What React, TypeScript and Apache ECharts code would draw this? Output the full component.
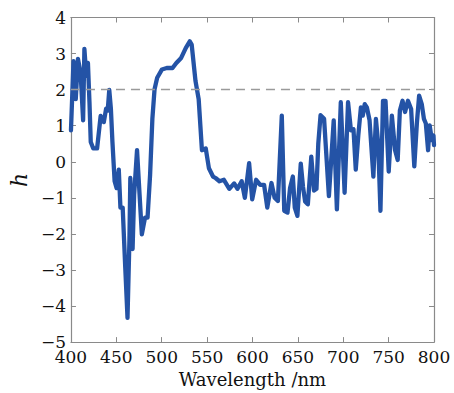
import React, { useEffect, useRef } from "react";
import * as echarts from "echarts";

const wavelength = [
  400, 402.8, 405.3, 407.7, 410.6, 413.4, 414.8, 416.9, 418.7, 420.4, 421.8, 424.6, 428.8,
  432.7, 436.2, 438.7, 440.5, 442.2, 444, 445.7, 448.1, 450.3, 452.7, 454.5, 457, 459.8,
  462.3, 464.4, 465.4, 467.9, 469.6, 472.8, 475.6, 478.1, 481.6, 484.4, 487.2, 489.7,
  492.1, 495, 500.3, 505.5, 511.9, 516.1, 521.4, 526.6, 530.9, 533, 537.2, 540.7, 544.3,
  548.5, 552, 556.5, 559.3, 563.6, 568.5, 574.5, 579.8, 583.5, 588.1, 591.6, 596.3,
  599.7, 604, 608.5, 612.8, 616.3, 620.9, 624.4, 628, 632.3, 635, 638.6, 641.4, 644.5,
  646.6, 649.5, 653.2, 655.7, 658, 661, 664.8, 667.8, 670.5, 672.5, 675, 678.9, 684.2,
  689.5, 693, 697.3, 701.5, 705.3, 708.5, 711.3, 713.8, 716.6, 719.5, 721.5, 723.7, 726,
  729, 733.2, 736, 738.5, 741, 743.8, 746.6, 750.1, 753.6, 757.1, 760, 762.4, 765.3,
  768.1, 771.3, 774.8, 778.3, 781.1, 783.6, 786.5, 788.9, 791, 793.5, 795.2, 797.7,
  799.4, 800,
];

const hValues = [
  0.87, 2.79, 1.74, 2.85, 2.47, 1.15, 3.13, 2.38, 2.74, 1.65, 0.55, 0.37, 0.37,
  1.27, 1.1, 1.47, 1.42, 1.99, 1.47, 0.55, -0.54, -0.73, -0.22, -1.27, -1.27, -2.92,
  -4.33, -2.19, -0.45, -2.42, -0.91, 0.32, -0.91, -2.01, -1.55, -1.55, -0.36, 1.19,
  2.01, 2.33, 2.56, 2.6, 2.6, 2.74, 2.88, 3.16, 3.34, 3.25, 2.24, 1.74, 0.32,
  0.37, -0.18, -0.41, -0.45, -0.54, -0.5, -0.75, -0.6, -0.75, -0.54, -1.0, -0.04,
  -1.04, -0.5, -0.64, -0.64, -1.27, -0.59, -1.0, -1.09, 1.28, -1.36, -1.41, -0.73, -0.41,
  -1.27, -1.5, -0.05, -0.7, -1.1, -1.18, 0.14, -0.8, -0.75, 0.5, 1.29, 1.19, -0.95,
  1.15, -1.32, 1.65, -0.86, 1.65, 0.87, 0.9, -0.22, 0.73, 1.51, 1.28, 1.6, 1.51,
  1.15, -0.41, 1.19, 0.5, -1.36, 1.69, 1.69, -0.27, 1.28, 0.32, 0.05, 1.42, 1.69,
  1.38, 1.69, 1.46, -0.13, 1.06, 1.83, 1.6, 1.19, 1.06, 0.32, 1.01, 0.6,
  0.73, 0.46,
];

const referenceLevel = 2;
const xTitle = "Wavelength /nm";
const yTitle = "h";

const FONT = "'DejaVu Serif', serif";
const AXIS_GRAY = "#8a8a8a";

export default function App() {
  const ref = useRef<HTMLDivElement>(null);

  useEffect(() => {
    if (!ref.current) return;
    const chart = echarts.init(ref.current, undefined, { renderer: "svg" });
    const minusFmt = (v: number) => String(v).replace("-", "\u2212");
    const baseAxis = {
      axisLine: { show: true, onZero: false, lineStyle: { color: AXIS_GRAY, width: 1.2 } },
      axisTick: { show: true, inside: true, length: 5, lineStyle: { color: AXIS_GRAY } },
      splitLine: { show: false },
    };
    chart.setOption({
      animation: false,
      backgroundColor: "#ffffff",
      grid: { left: 55, right: 20, top: 17.5, bottom: 47.3, containLabel: false },
      xAxis: [
        {
          ...baseAxis,
          type: "value",
          min: 400,
          max: 800,
          interval: 50,
          position: "bottom",
          name: xTitle,
          nameLocation: "middle",
          nameGap: 26,
          nameTextStyle: { fontFamily: FONT, fontSize: 18, color: "#111" },
          axisLabel: { fontFamily: FONT, fontSize: 17, color: "#111", margin: 6 },
        },
        {
          ...baseAxis,
          type: "value",
          min: 400,
          max: 800,
          interval: 50,
          position: "top",
          axisLabel: { show: false },
        },
      ],
      yAxis: [
        {
          ...baseAxis,
          type: "value",
          min: -5,
          max: 4,
          interval: 1,
          position: "left",
          name: yTitle,
          nameLocation: "middle",
          nameGap: 30,
          nameRotate: 90,
          nameTextStyle: { fontFamily: FONT, fontSize: 22, fontStyle: "italic", color: "#111" },
          axisLabel: { fontFamily: FONT, fontSize: 17, color: "#111", margin: 5, formatter: minusFmt },
        },
        {
          ...baseAxis,
          type: "value",
          min: -5,
          max: 4,
          interval: 1,
          position: "right",
          axisLabel: { show: false },
        },
      ],
      series: [
        {
          type: "line",
          data: wavelength.map((w, i) => [w, hValues[i]]),
          showSymbol: false,
          symbol: "none",
          lineStyle: { color: "#2453a6", width: 4.3, join: "round", cap: "round" },
          markLine: {
            silent: true,
            symbol: "none",
            label: { show: false },
            lineStyle: { color: "#9a9a9a", type: [9, 6], width: 1.3 },
            data: [{ yAxis: referenceLevel }],
          },
          z: 3,
        },
      ],
    });
    return () => chart.dispose();
  }, []);

  return (
    <div
      ref={ref}
      style={{ position: "absolute", left: 0, top: 0, width: 454, height: 393 }}
    />
  );
}
